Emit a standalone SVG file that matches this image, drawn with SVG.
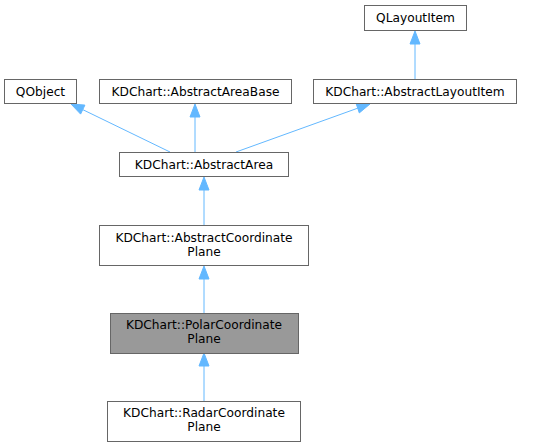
<svg xmlns="http://www.w3.org/2000/svg" width="545" height="447" viewBox="0 0 545 447">
<style>
.n rect{fill:#ffffff;stroke:#666666;stroke-width:1}
.n text{font-family:"DejaVu Sans","Liberation Sans",sans-serif;font-size:12.2px;fill:#000000;text-anchor:middle}
#edges line{stroke:#63b8ff;stroke-width:1}
#edges polygon{fill:#63b8ff;stroke:#63b8ff;stroke-width:1}
</style>
<rect width="545" height="447" fill="#ffffff"/>
<g id="edges">
<line x1="415" y1="79" x2="415" y2="44"/>
<polygon points="415,31 410,44 420,44"/>
<line x1="170" y1="152" x2="82.7" y2="109.6"/>
<polygon points="71,104 80.6,114.1 84.9,105.1"/>
<line x1="195" y1="152" x2="195" y2="117"/>
<polygon points="195,104 190,117 200,117"/>
<line x1="236" y1="152" x2="357.7" y2="108.2"/>
<polygon points="370,104 356.1,103.5 359.3,112.9"/>
<line x1="204" y1="225" x2="204" y2="190"/>
<polygon points="204,177 199,190 209,190"/>
<line x1="204" y1="313" x2="204" y2="279"/>
<polygon points="204,266 199,279 209,279"/>
<line x1="204" y1="401" x2="204" y2="366"/>
<polygon points="204,353 199,366 209,366"/>
</g>
<g id="QLayoutItem" class="n"><rect x="364.5" y="5.5" width="102" height="25"/><text x="415.5" y="21.5">QLayoutItem</text></g>
<g id="QObject" class="n"><rect x="4.5" y="79.5" width="72" height="24"/><text x="40.5" y="95.5">QObject</text></g>
<g id="AbstractAreaBase" class="n"><rect x="99.5" y="79.5" width="192" height="24"/><text x="195.5" y="95.5">KDChart::AbstractAreaBase</text></g>
<g id="AbstractLayoutItem" class="n"><rect x="313.5" y="79.5" width="203" height="24"/><text x="415" y="95.5">KDChart::AbstractLayoutItem</text></g>
<g id="AbstractArea" class="n"><rect x="119.5" y="152.5" width="169" height="24"/><text x="204" y="168.5">KDChart::AbstractArea</text></g>
<g id="AbstractCoordinatePlane" class="n"><rect x="99.5" y="225.5" width="209" height="40"/><text x="204" y="241.5">KDChart::AbstractCoordinate</text><text x="204" y="255.5">Plane</text></g>
<g id="PolarCoordinatePlane" class="n"><rect x="110.5" y="313.5" width="188" height="40" style="fill:#999999"/><text x="204" y="328.5">KDChart::PolarCoordinate</text><text x="204" y="342.5">Plane</text></g>
<g id="RadarCoordinatePlane" class="n"><rect x="107.5" y="401.5" width="193" height="40"/><text x="204" y="416.5">KDChart::RadarCoordinate</text><text x="204" y="430.5">Plane</text></g>
</svg>
